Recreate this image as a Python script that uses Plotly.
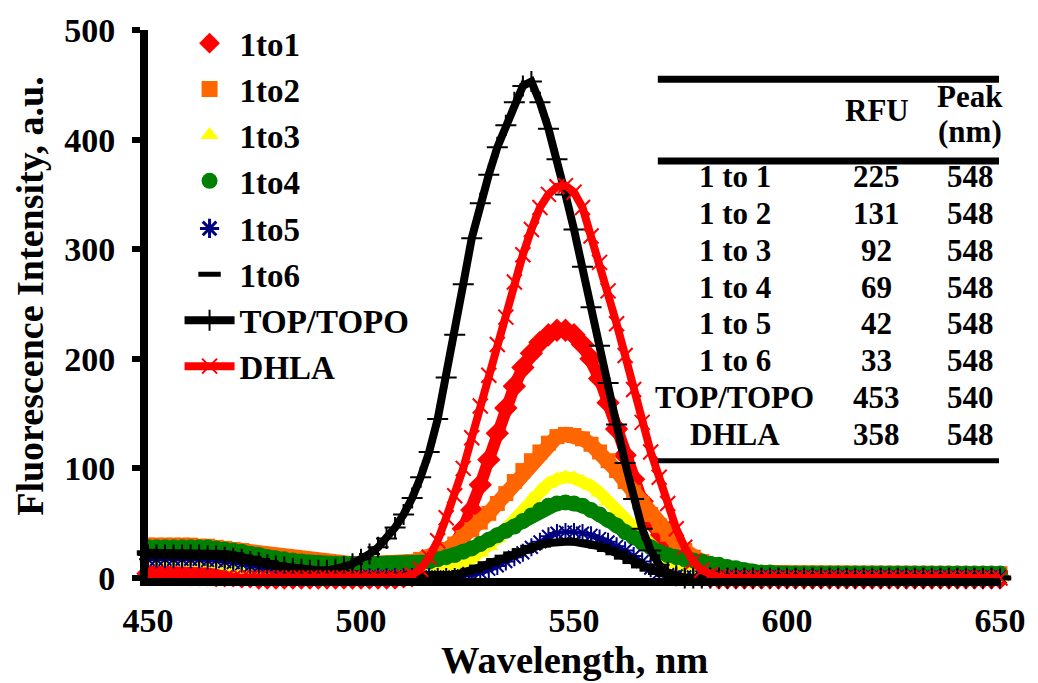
import plotly.graph_objects as go

# ---------------- data ----------------
WAVELENGTH = list(range(450, 651, 2))

S_1TO1 = [4, 4, 4, 4, 4, 3, 3, 3, 2, 2,
          2, 1, 1, 0, 0, 0, 0, 0, 0, 0,
          0, 0, 0, 0, 0, 0, 0, 0, 0, 0,
          1, 2, 4, 7, 12, 20, 30, 45, 62, 85,
          108, 132, 155, 175, 192, 205, 215, 222, 226, 226,
          222, 213, 200, 182, 160, 136, 112, 90, 70, 52,
          37, 25, 16, 10, 5, 2, 1, 0, 0, 0,
          0, 0, 0, 0, 0, 0, 0, 0, 0, 0,
          0, 0, 0, 0, 0, 0, 0, 0, 0, 0,
          0, 0, 0, 0, 0, 0, 0, 0, 0, 0,
          0]

S_1TO2 = [30, 30, 30, 30, 30, 30, 29, 29, 28, 27,
          26, 25, 23, 22, 20, 19, 18, 17, 16, 15,
          14, 14, 14, 13, 13, 13, 13, 13, 13, 13,
          14, 15, 17, 19, 22, 26, 31, 37, 44, 51,
          59, 68, 77, 88, 98, 107, 115, 123, 129, 131,
          130, 127, 122, 115, 107, 98, 88, 78, 68, 58,
          48, 40, 32, 25, 19, 15, 12, 10, 8, 7,
          6, 5, 5, 5, 5, 4, 4, 4, 4, 4,
          4, 4, 4, 4, 4, 4, 4, 4, 4, 4,
          4, 4, 4, 4, 4, 4, 4, 4, 4, 4,
          4]

S_1TO3 = [17, 17, 17, 17, 17, 16, 16, 15, 14, 13,
          11, 9, 7, 5, 3, 2, 1, 0, 0, 0,
          0, 0, 0, 0, 0, 0, 0, 0, 0, 0,
          1, 2, 3, 5, 7, 9, 11, 14, 18, 23,
          29, 36, 45, 54, 63, 72, 80, 86, 90, 92,
          91, 88, 84, 78, 70, 62, 53, 45, 37, 30,
          23, 17, 12, 8, 5, 3, 1, 0, 0, 0,
          0, 0, 0, 0, 0, 0, 0, 0, 0, 0,
          0, 0, 0, 0, 0, 0, 0, 0, 0, 0,
          0, 0, 0, 0, 0, 0, 0, 0, 0, 0,
          0]

S_1TO4 = [28, 28, 28, 28, 28, 28, 28, 28, 27, 26,
          25, 24, 22, 21, 19, 18, 17, 16, 15, 14,
          14, 13, 13, 13, 13, 13, 13, 13, 13, 13,
          13, 13, 14, 15, 17, 19, 21, 24, 27, 31,
          35, 39, 43, 47, 52, 57, 62, 66, 68, 69,
          68, 66, 62, 58, 53, 48, 42, 37, 32, 28,
          24, 21, 19, 17, 16, 15, 13, 12, 10, 9,
          7, 6, 5, 5, 4, 4, 4, 4, 4, 4,
          4, 4, 4, 4, 4, 4, 4, 4, 4, 4,
          4, 4, 4, 4, 4, 4, 4, 4, 4, 4,
          4]

S_1TO5 = [17, 17, 17, 17, 17, 17, 17, 16, 16, 15,
          14, 13, 11, 10, 8, 7, 5, 4, 3, 2,
          1, 1, 1, 1, 1, 1, 1, 1, 1, 1,
          1, 1, 1, 1, 1, 1, 1, 2, 3, 5,
          8, 11, 15, 19, 23, 28, 33, 38, 41, 42,
          42, 41, 39, 36, 33, 29, 25, 20, 15, 9,
          5, 3, 2, 1, 1, 1, 1, 1, 1, 1,
          1, 1, 1, 1, 1, 1, 1, 1, 1, 1,
          1, 1, 1, 1, 1, 1, 1, 1, 1, 1,
          1, 1, 1, 1, 1, 1, 1, 1, 1, 1,
          1]

S_1TO6 = [23, 23, 23, 23, 23, 23, 23, 23, 22, 22,
          21, 19, 18, 16, 14, 12, 10, 8, 7, 6,
          5, 5, 4, 4, 3, 3, 2, 2, 2, 2,
          2, 2, 2, 2, 2, 2, 3, 5, 7, 10,
          13, 16, 19, 22, 25, 28, 30, 32, 33, 33,
          33, 32, 31, 29, 26, 23, 19, 15, 11, 8,
          5, 3, 1, 0, 0, 0, 0, 0, 0, 0,
          0, 0, 0, 0, 0, 0, 0, 0, 0, 0,
          0, 0, 0, 0, 0, 0, 0, 0, 0, 0,
          0, 0, 0, 0, 0, 0, 0, 0, 0, 0,
          0]

S_TOPTOPO = [21, 21, 21, 21, 21, 21, 21, 20, 20, 19,
             18, 17, 15, 14, 12, 11, 10, 9, 8, 7,
             7, 7, 8, 10, 13, 17, 22, 28, 36, 46,
             58, 73, 92, 115, 145, 183, 222, 268, 310, 342,
             368, 393, 413, 434, 449, 453, 434, 410, 382, 350,
             318, 284, 247, 212, 178, 140, 105, 72, 45, 25,
             12, 5, 2, 0, 0, 0, 0, 0, 0, 0,
             0, 0, 0, 0, 0, 0, 0, 0, 0, 0,
             0, 0, 0, 0, 0, 0, 0, 0, 0, 0,
             0, 0, 0, 0, 0, 0, 0, 0, 0, 0,
             0]

S_DHLA = [0, 0, 0, 0, 0, 0, 0, 0, 0, 0,
          0, 0, 0, 0, 0, 0, 0, 0, 0, 0,
          0, 0, 0, 0, 0, 0, 0, 0, 0, 0,
          1, 3, 8, 19, 34, 55, 75, 100, 128, 157,
          185, 213, 238, 270, 295, 318, 338, 350, 357, 358,
          352, 338, 312, 288, 262, 232, 203, 172, 142, 115,
          92, 68, 45, 28, 15, 7, 3, 1, 0, 0,
          0, 0, 0, 0, 0, 0, 0, 0, 0, 0,
          0, 0, 0, 0, 0, 0, 0, 0, 0, 0,
          0, 0, 0, 0, 0, 0, 0, 0, 0, 0,
          0]

TABLE_NAMES = ["1 to 1", "1 to 2", "1 to 3", "1 to 4", "1 to 5", "1 to 6", "TOP/TOPO", "DHLA"]
TABLE_RFU = [225, 131, 92, 69, 42, 33, 453, 358]
TABLE_PEAK = [548, 548, 548, 548, 548, 548, 540, 548]

X_TICKS = [450, 500, 550, 600, 650]
Y_TICKS = [0, 100, 200, 300, 400, 500]

# ---------------- layout geometry (pixels) ----------------
W, H = 1038, 683
L, R, T, B = 148, 26, 22, 105
PW = W - L - R
PH = H - T - B
FONT = "Times New Roman, Liberation Serif, Tinos, serif"


def xp(px):
    return (px - L) / PW


def yp(py):
    return (H - B - py) / PH


fig = go.Figure()

marker_series = [
    ("1to1", S_1TO1, "#FF0000", "diamond", 18, 12, None),
    ("1to2", S_1TO2, "#FF6600", "square", 15, 15, None),
    ("1to3", S_1TO3, "#FFFF00", "triangle-up", 16, 12, None),
    ("1to4", S_1TO4, "#008000", "circle", 16, 14, None),
    ("1to5", S_1TO5, "#000080", "asterisk-open", 15, 4, 2),
    ("1to6", S_1TO6, "#000000", "line-ew-open", 16, 8, 5),
]

for rank, (name, vals, col, sym, size, lw, mlw) in enumerate(marker_series):
    mk = dict(symbol=sym, size=size, color=col)
    if mlw:
        mk["line"] = dict(color=col, width=mlw)
    fig.add_trace(go.Scatter(
        x=WAVELENGTH, y=vals, mode="lines+markers", name=name,
        line=dict(color=col, width=lw), marker=mk,
        showlegend=False, cliponaxis=False, hoverinfo="skip"))

fig.add_trace(go.Scatter(
    x=WAVELENGTH, y=S_TOPTOPO, mode="lines+markers", name="TOP/TOPO",
    line=dict(color="#000000", width=8),
    marker=dict(symbol="cross-thin-open", size=15, color="#000000",
                line=dict(color="#000000", width=2)),
    legend="legend2", legendrank=7, cliponaxis=False))

fig.add_trace(go.Scatter(
    x=WAVELENGTH, y=S_DHLA, mode="lines+markers", name="DHLA",
    line=dict(color="#FF0000", width=8),
    marker=dict(symbol="x-thin-open", size=15, color="#FF0000",
                line=dict(color="#FF0000", width=2)),
    legend="legend2", legendrank=8, cliponaxis=False))

# legend entries for the marker-only series (first four in legend, rest in legend2)
for rank, (name, vals, col, sym, size, lw, mlw) in enumerate(marker_series):
    mk = dict(symbol=sym, size=16, color=col)
    if mlw:
        mk["line"] = dict(color=col, width=min(mlw + 1, 5))
    fig.add_trace(go.Scatter(
        x=[None], y=[None], mode="markers", name=name, marker=mk,
        legend="legend" if rank < 4 else "legend2",
        legendrank=rank + 1, showlegend=True))

bold = dict(family=FONT, color="black", weight="bold")
legend_common = dict(xanchor="left", yanchor="top", bgcolor="rgba(0,0,0,0)",
                     itemwidth=50, font=dict(size=33, **bold), traceorder="normal")

fig.update_layout(
    width=W, height=H,
    margin=dict(l=L, r=R, t=T, b=B),
    paper_bgcolor="white", plot_bgcolor="white",
    font=dict(family=FONT),
    showlegend=True,
    legend=dict(x=xp(180), y=yp(7), **legend_common),
    legend2=dict(x=xp(180), y=yp(195), **legend_common),
    xaxis=dict(range=[450, 650], tickvals=X_TICKS, showgrid=False, zeroline=False,
               showline=True, linewidth=8, linecolor="black", ticks="",
               ticklabelstandoff=5,
               tickfont=dict(size=34, **bold)),
    yaxis=dict(range=[0, 500], tickvals=Y_TICKS, showgrid=False, zeroline=False,
               showline=True, linewidth=8, linecolor="black", ticks="outside",
               ticklen=8, tickwidth=6, tickcolor="black", ticklabelstandoff=10,
               tickfont=dict(size=34, **bold)),
)

ann = []
ann.append(dict(text="Wavelength, nm", x=xp(581), y=yp(661), xref="paper", yref="paper",
                showarrow=False, font=dict(size=38.5, **bold), xanchor="center", yanchor="middle"))
ann.append(dict(text="Fluorescence Intensity, a.u.", x=xp(28), y=yp(292), xref="paper", yref="paper",
                showarrow=False, textangle=-90, font=dict(size=38, **bold),
                xanchor="center", yanchor="middle"))

tfont = dict(size=31, **bold)
COL_X = [743, 887, 982]
DY = -6
ann.append(dict(text="RFU", x=xp(COL_X[1]), y=yp(110 + DY), xref="paper", yref="paper",
                showarrow=False, font=tfont, xanchor="center", yanchor="middle"))
ann.append(dict(text="Peak", x=xp(COL_X[2]), y=yp(95 + DY), xref="paper", yref="paper",
                showarrow=False, font=tfont, xanchor="center", yanchor="middle"))
ann.append(dict(text="(nm)", x=xp(COL_X[2]), y=yp(131 + DY), xref="paper", yref="paper",
                showarrow=False, font=tfont, xanchor="center", yanchor="middle"))
for i, (nm_, rfu, pk) in enumerate(zip(TABLE_NAMES, TABLE_RFU, TABLE_PEAK)):
    ypix = 177 + DY + i * 37.3
    for cx, txt in zip(COL_X, [nm_, str(rfu), str(pk)]):
        ann.append(dict(text=txt, x=xp(cx), y=yp(ypix), xref="paper", yref="paper",
                        showarrow=False, font=tfont, xanchor="center", yanchor="middle"))

shapes = []
for ypix, w in [(72, 7), (155, 7), (459, 5)]:
    shapes.append(dict(type="line", xref="paper", yref="paper",
                       x0=xp(665), x1=xp(1011), y0=yp(ypix), y1=yp(ypix),
                       line=dict(color="black", width=w)))

fig.update_layout(annotations=ann, shapes=shapes)

fig.write_html("out.html")
